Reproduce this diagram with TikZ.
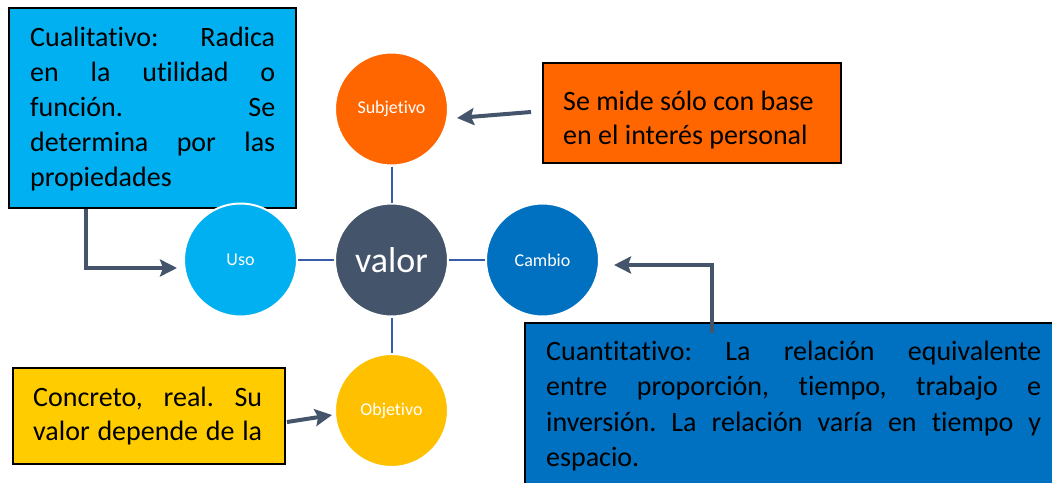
\documentclass[tikz,border=0pt]{standalone}
\usepackage{fontspec}
\setmainfont{Carlito}[Ligatures={NoCommon}]
\usetikzlibrary{arrows.meta}
\definecolor{cOrange}{HTML}{FF6600}
\definecolor{cLight}{HTML}{00B0F0}
\definecolor{cDark}{HTML}{0070C0}
\definecolor{cYellow}{HTML}{FFC000}
\definecolor{cYellowBox}{HTML}{FFCC00}
\definecolor{cSlate}{HTML}{44546A}
\definecolor{cLink}{HTML}{3A5DA8}
\newcommand\jl[2]{\makebox[#1][s]{#2}}
\frenchspacing
\begin{document}
\begin{tikzpicture}[x=1pt,y=-1pt,
  circ/.style={circle, minimum size=113pt, inner sep=0pt, draw=white, line width=2pt, text=white, font=\fontsize{18}{22}\selectfont},
  box/.style={draw=black, line width=1.6pt, inner sep=0pt, anchor=north west},
  boxtext/.style={anchor=base west, inner sep=0pt, font=\fontsize{28}{35}\selectfont, text=black},
  link/.style={draw=cLink, line width=2pt},
  arr/.style={draw=cSlate, line width=4pt, -{Stealth[length=17pt,width=17pt,inset=3pt]}}
]
\path[use as bounding box] (0,0) rectangle (1052,482);

% boxes
\node[box, fill=cLight, minimum width=287pt, minimum height=200pt] (cual) at (8,7) {};
\node[box, fill=cOrange, minimum width=298pt, minimum height=100pt] (orng) at (542,62) {};
\node[box, fill=cYellowBox, minimum width=272pt, minimum height=96pt] (ybox) at (12,367) {};
\node[box, fill=cDark, minimum width=540pt, minimum height=170pt] (dbox) at (524,322) {};

% box texts
\node[boxtext] (cualtxt) at (30,46.7) {\parbox[t]{245pt}{\frenchspacing
\jl{245pt}{Cualitativo: Radica}\\
\jl{245pt}{en la utilidad o}\\
\jl{245pt}{función. \hfill Se}\\
\jl{245pt}{determina por las}\\
propiedades}};
\node[boxtext, font=\fontsize{28}{33.6}\selectfont] (orngtxt) at (563,110.7) {\parbox[t]{260pt}{\frenchspacing
Se mide sólo con base\\
en el interés personal}};
\node[boxtext, font=\fontsize{28}{34.5}\selectfont] (ytxt) at (33,406) {\parbox[t]{229pt}{\frenchspacing
\jl{229pt}{Concreto, real. Su}\\
\jl{229pt}{valor depende de la}}};
\node[boxtext, font=\fontsize{28}{35.5}\selectfont] (dtxt) at (546,360) {\parbox[t]{495pt}{\frenchspacing
\jl{495pt}{Cuantitativo: La relación equivalente}\\
\jl{495pt}{entre proporción, tiempo, trabajo e}\\
\jl{495pt}{inversión. La relación varía en tiempo y}\\
espacio.}};

% circles
\node[circ, fill=cSlate, font=\fontsize{36}{40}\selectfont] (valor) at (391.5,260) {valor};
\node[circ, fill=cOrange] (subj) at (391.5,109) {Subjetivo};
\node[circ, fill=cLight] (uso) at (240.5,260) {Uso};
\node[circ, fill=cDark] (cambio) at (542.5,260) {Cambio};
\node[circ, fill=cYellow] (obj) at (391.5,410.5) {Objetivo};

% links
\draw[link] (uso) -- (valor);
\draw[link] (valor) -- (cambio);
\draw[link] (subj) -- (valor);
\draw[link] (valor) -- (obj);

% arrows
\coordinate (c0) at (86,0);
\coordinate (c1) at (177,268);
\draw[arr] (cual.south -| c0) |- (c1);

\coordinate (o0) at (531,112);
\coordinate (o1) at (457,118);
\draw[arr] (o0) -- (o1);

\coordinate (y0) at (287,422);
\coordinate (y1) at (332,415);
\draw[arr] (y0) -- (y1);

\coordinate (d0) at (712,333);
\coordinate (d1) at (614,265);
\draw[arr] (d0) |- (d1);
\end{tikzpicture}
\end{document}
